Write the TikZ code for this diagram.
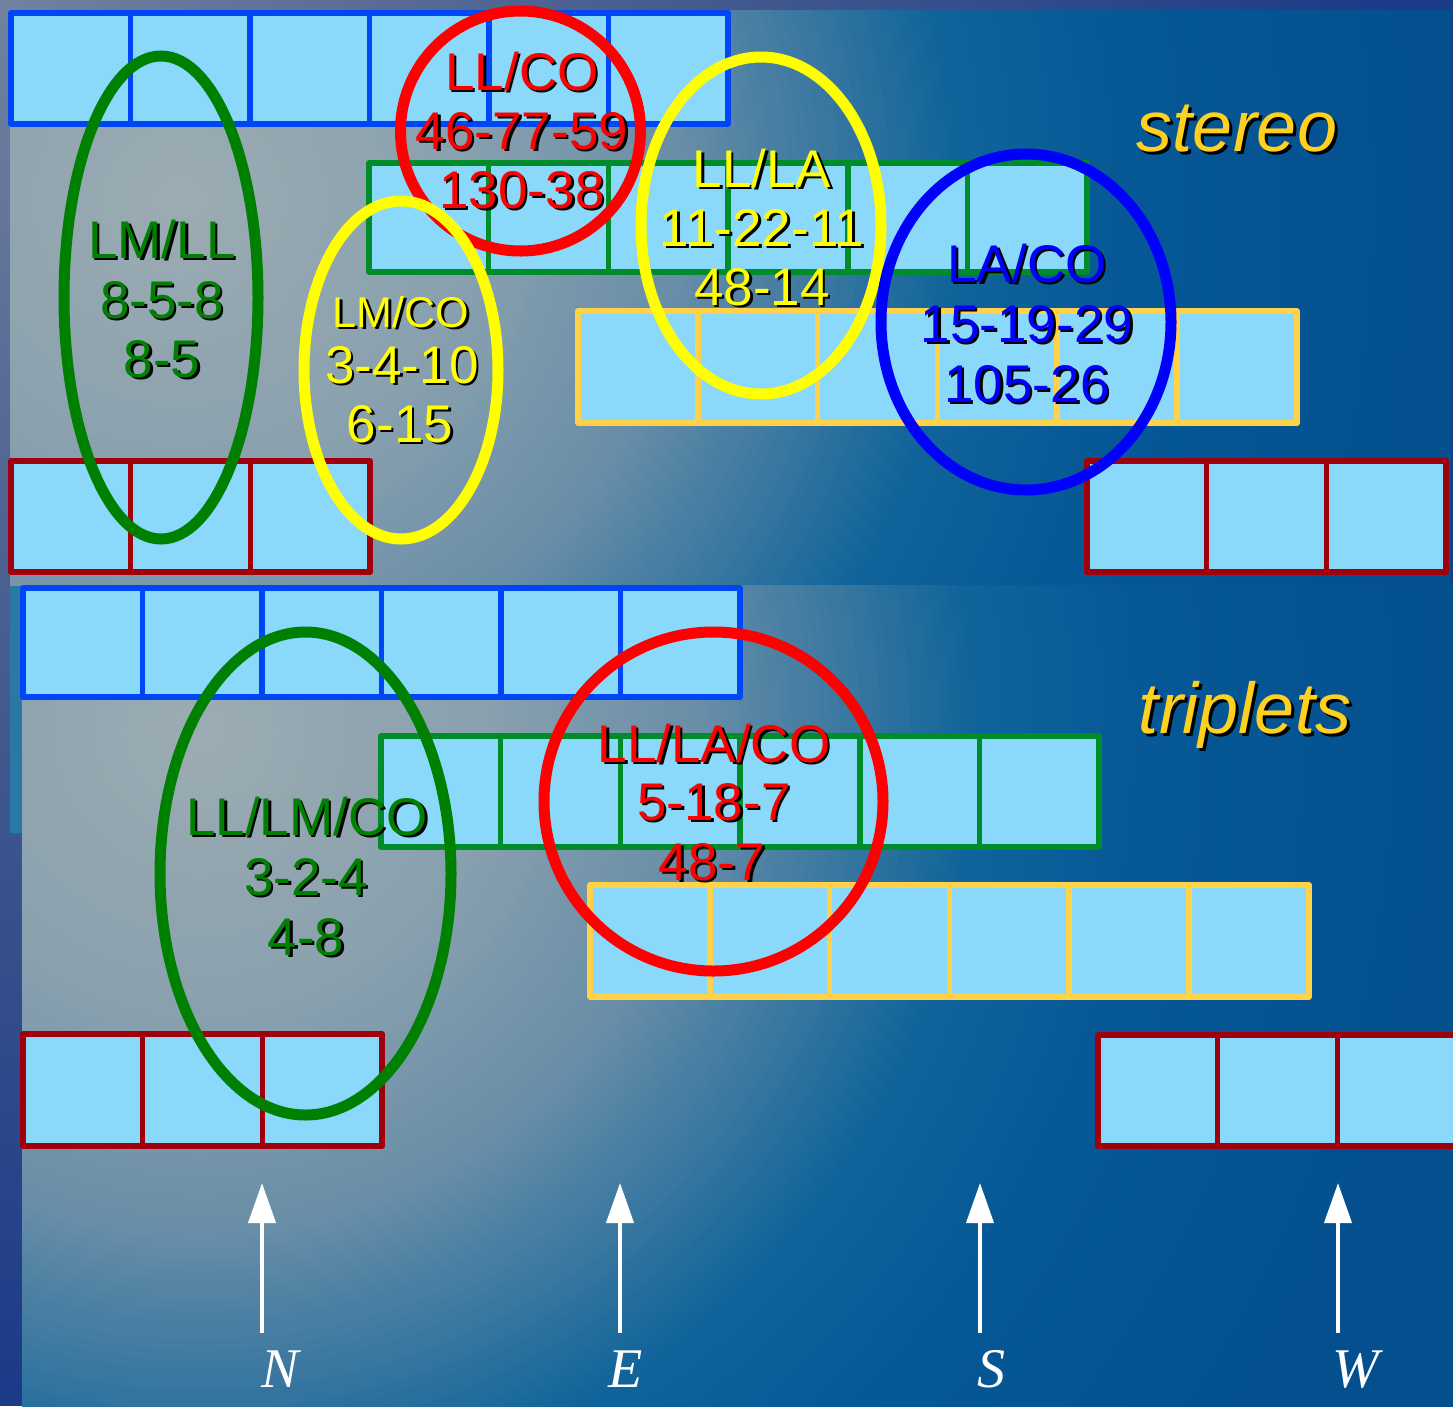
\documentclass[tikz,border=0pt]{standalone}
\usepackage{fontspec}
\setmainfont{Liberation Sans}
\newfontfamily\compassfont{Liberation Serif}
\usetikzlibrary{arrows.meta}

\definecolor{pA}{HTML}{9CACB2}
\definecolor{pB}{HTML}{88A0AE}
\definecolor{pC}{HTML}{6A8EA8}
\definecolor{pD}{HTML}{3A78A0}
\definecolor{pE}{HTML}{10649A}
\definecolor{pF}{HTML}{065896}
\definecolor{pG}{HTML}{04508F}
\definecolor{oA}{HTML}{7282A0}
\definecolor{oB}{HTML}{4A6090}
\definecolor{oC}{HTML}{1C3A88}
\definecolor{stripteal}{HTML}{2A78A5}

\definecolor{cellfill}{HTML}{8AD8FA}
\definecolor{rowblue}{HTML}{0046F5}
\definecolor{rowgreen}{HTML}{008C2A}
\definecolor{rowgold}{HTML}{FFD24A}
\definecolor{rowred}{HTML}{A0000C}
\definecolor{ringgreen}{HTML}{008000}
\definecolor{ringred}{HTML}{FF0000}
\definecolor{ringyellow}{HTML}{FFFF00}
\definecolor{ringblue}{HTML}{0000FF}
\definecolor{titlegold}{HTML}{FFD020}

\tikzset{
  cellbox/.style={fill=cellfill, line width=5.5pt, line join=round},
  ring/.style={line width=11pt},
  lbl/.style={anchor=base, inner sep=0pt, outer sep=0pt},
  compassarrow/.style={draw=white, line width=4pt, -{Triangle[width=27pt,length=40pt]}},
}

% one band of a manual radial gradient: cx, cy, r outer, r inner, colour outer, colour inner
\newcommand{\radseg}[6]{%
  \pgfmathtruncatemacro{\rsN}{max(1,round((#3-#4)/10))}%
  \pgfmathtruncatemacro{\rsL}{\rsN-1}%
  \foreach \k in {0,...,\rsL} {%
    \pgfmathsetmacro{\rsF}{\k/\rsN}%
    \pgfmathsetmacro{\rsR}{#3-(#3-#4)*\rsF}%
    \pgfmathsetmacro{\rsP}{100*\rsF}%
    \fill[#6!\rsP!#5] (#1,#2) circle [radius=\rsR];
  }}

\newcommand{\panelgrad}[2]{%
  \fill[pG] ({#1-1600},{#2-1600}) rectangle ({#1+1600},{#2+1600});
  \radseg{#1}{#2}{1250}{950}{pG}{pF}
  \radseg{#1}{#2}{950}{780}{pF}{pE}
  \radseg{#1}{#2}{780}{650}{pE}{pD}
  \radseg{#1}{#2}{650}{500}{pD}{pC}
  \radseg{#1}{#2}{500}{300}{pC}{pB}
  \radseg{#1}{#2}{300}{0}{pB}{pA}
}

\newcommand{\cellrow}[6]{%
  \foreach \i in {1,...,#4} {
    \draw[cellbox, draw=#6] ({#1+(\i-1)*#5},#2) rectangle ({#1+\i*#5},#3);
  }}

\newcommand{\shlabel}[7]{% name, x, baseline y, color, size, text, shadow offset
  \node[lbl, text=black] (#1-shadow) at ({#2+#7},{#3+#7}) {\fontsize{#5}{#5}\selectfont #6};
  \node[lbl, text=#4] (#1) at (#2,#3) {\fontsize{#5}{#5}\selectfont #6};
}

\begin{document}
\begin{tikzpicture}[x=1pt, y=-1pt]
\useasboundingbox (0,0) rectangle (1453,1406);

% outer background
\begin{scope}
  \clip (0,0) rectangle (1453,1406);
  \fill[oC] (0,0) rectangle (1453,1406);
  \radseg{0}{0}{1400}{600}{oC}{oB}
  \radseg{0}{0}{600}{0}{oB}{oA}
\end{scope}

% top panel
\fill[stripteal] (10,585) rectangle (22,833);
\begin{scope}
  \clip (10,10) rectangle (1451,585);
  \panelgrad{180}{200}
\end{scope}

% bottom panel
\begin{scope}
  \clip (22,585) rectangle (1453,1406);
  \panelgrad{200}{730}
\end{scope}

% ---- top rows
\cellrow{11}{13}{124}{6}{119.5}{rowblue}
\cellrow{369}{163}{272}{6}{119.7}{rowgreen}
\cellrow{578}{311}{423}{6}{119.8}{rowgold}
\cellrow{11}{461}{572}{3}{119.7}{rowred}
\cellrow{1087}{461}{572}{3}{119.7}{rowred}

% ---- bottom rows
\cellrow{23}{588}{697}{6}{119.5}{rowblue}
\cellrow{381}{736}{847}{6}{119.7}{rowgreen}
\cellrow{590}{885}{997}{6}{119.8}{rowgold}
\cellrow{23}{1034}{1146}{3}{119.7}{rowred}
\cellrow{1098}{1035}{1146}{3}{119.7}{rowred}

% ---- ellipses
\draw[ring, draw=ringgreen] (161,297.5) ellipse [x radius=97, y radius=241.5];
\draw[ring, draw=ringred] (520.5,131) ellipse [x radius=120, y radius=120];
\draw[ring, draw=ringyellow] (401,370) ellipse [x radius=97, y radius=169];
\draw[ring, draw=ringyellow] (761,225.5) ellipse [x radius=120, y radius=168.5];
\draw[ring, draw=ringblue] (1026,322) ellipse [x radius=145, y radius=168];
\draw[ring, draw=ringgreen] (305.5,873.5) ellipse [x radius=145.5, y radius=241.5];
\draw[ring, draw=ringred] (713.5,801.5) ellipse [x radius=169.5, y radius=169.5];

% ---- labels (top)
\shlabel{lmll1}{162}{258}{ringgreen}{53}{LM/LL}{2.5}
\shlabel{lmll2}{162}{318}{ringgreen}{53}{8-5-8}{2.5}
\shlabel{lmll3}{162}{377}{ringgreen}{53}{8-5}{2.5}

\shlabel{llco1}{522}{90}{ringred}{53}{LL/CO}{2.5}
\shlabel{llco2}{522}{149}{ringred}{53}{46-77-59}{2.5}
\shlabel{llco3}{522}{208}{ringred}{53}{130-38}{2.5}

\shlabel{lmco1}{401}{327}{ringyellow}{43}{LM/CO}{2.5}
\shlabel{lmco2}{402}{383}{ringyellow}{53}{3-4-10}{2.5}
\shlabel{lmco3}{400}{442}{ringyellow}{53}{6-15}{2.5}

\shlabel{llla1}{762}{187}{ringyellow}{53}{LL/LA}{2.5}
\shlabel{llla2}{762}{246}{ringyellow}{53}{11-22-11}{2.5}
\shlabel{llla3}{762}{305}{ringyellow}{53}{48-14}{2.5}

\shlabel{laco1}{1027}{282}{ringblue}{53}{LA/CO}{2.5}
\shlabel{laco2}{1027}{342}{ringblue}{53}{15-19-29}{2.5}
\shlabel{laco3}{1027}{402}{ringblue}{53}{105-26}{2.5}

\shlabel{stereo}{1237}{151}{titlegold}{72}{\itshape stereo}{3}

% ---- labels (bottom)
\shlabel{lllmco1}{307}{835}{ringgreen}{53}{LL/LM/CO}{2.5}
\shlabel{lllmco2}{306}{895}{ringgreen}{53}{3-2-4}{2.5}
\shlabel{lllmco3}{306}{955}{ringgreen}{53}{4-8}{2.5}

\shlabel{lllaco1}{714}{762}{ringred}{53}{LL/LA/CO}{2.5}
\shlabel{lllaco2}{714}{820}{ringred}{53}{5-18-7}{2.5}
\shlabel{lllaco3}{712}{880}{ringred}{53}{48-7}{2.5}

\shlabel{triplets}{1245}{733}{titlegold}{72}{\itshape triplets}{3}

% ---- compass arrows
\coordinate (nbot) at (262,1333); \coordinate (ntop) at (262,1183);
\coordinate (ebot) at (620,1333); \coordinate (etop) at (620,1183);
\coordinate (sbot) at (980,1333); \coordinate (stop) at (980,1183);
\coordinate (wbot) at (1338,1333); \coordinate (wtop) at (1338,1183);
\draw[compassarrow] (nbot) -- (ntop);
\draw[compassarrow] (ebot) -- (etop);
\draw[compassarrow] (sbot) -- (stop);
\draw[compassarrow] (wbot) -- (wtop);

\node[lbl, text=white] (labN) at (280,1387) {\fontsize{56}{56}\selectfont\compassfont\itshape N};
\node[lbl, text=white] (labE) at (626,1387) {\fontsize{56}{56}\selectfont\compassfont\itshape E};
\node[lbl, text=white] (labS) at (991,1387) {\fontsize{56}{56}\selectfont\compassfont\itshape S};
\node[lbl, text=white] (labW) at (1356,1387) {\fontsize{56}{56}\selectfont\compassfont\itshape W};
\end{tikzpicture}
\end{document}
